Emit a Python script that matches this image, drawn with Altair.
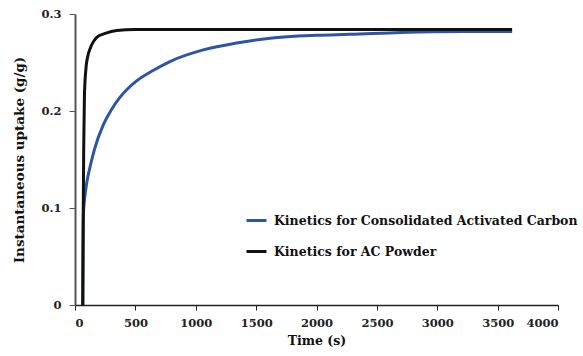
import altair as alt
import pandas as pd

# Kinetics for Consolidated Activated Carbon (blue)
cac_time = [65, 67, 70, 80, 100, 124, 160, 235, 300, 372, 510, 650, 786, 1062, 1338, 1614, 2000, 2277, 2700, 3200, 3620]
cac_uptake = [0.0, 0.06, 0.095, 0.11, 0.128, 0.142, 0.160, 0.186, 0.201, 0.214, 0.231, 0.242, 0.251, 0.263, 0.270, 0.275, 0.278, 0.279, 0.281, 0.282, 0.282]

# Kinetics for AC Powder (black)
acp_time = [64, 68, 72, 78, 90, 105, 124, 150, 180, 250, 345, 500, 1000, 2000, 3000, 3620]
acp_uptake = [0.0, 0.09, 0.16, 0.215, 0.243, 0.256, 0.264, 0.271, 0.276, 0.280, 0.283, 0.284, 0.284, 0.284, 0.284, 0.284]

series_names = ["Kinetics for Consolidated Activated Carbon", "Kinetics for AC Powder"]
series_colors = ["#2e55a5", "#111111"]

x_ticks = [0, 500, 1000, 1500, 2000, 2500, 3000, 3500, 4000]
y_ticks = [0, 0.1, 0.2, 0.3]

rows = []
for t, u in zip(cac_time, cac_uptake):
    rows.append({"time": t, "uptake": u, "series": series_names[0]})
for t, u in zip(acp_time, acp_uptake):
    rows.append({"time": t, "uptake": u, "series": series_names[1]})
df = pd.DataFrame(rows)

font = "DejaVu Serif"

chart = alt.Chart(df).mark_line(strokeWidth=3, interpolate="monotone").encode(
    x=alt.X("time:Q", scale=alt.Scale(domain=[0, 4000], nice=False),
            axis=alt.Axis(values=x_ticks, format="d", title="Time (s)", grid=False,
                          labelFont=font, labelFontSize=11.5, labelFontWeight="bold", labelColor="#222",
                          titleFont=font, titleFontSize=12.5, titleFontWeight="bold", titleColor="#111",
                          domainColor="#222", domainWidth=1.5, tickColor="#222", tickSize=5,
                          labelPadding=7, titlePadding=6)),
    y=alt.Y("uptake:Q", scale=alt.Scale(domain=[0, 0.3], nice=False),
            axis=alt.Axis(values=y_ticks, title="Instantaneous uptake (g/g)", grid=False,
                          labelExpr="datum.value == 0 ? '0' : format(datum.value, '.1f')",
                          labelFont=font, labelFontSize=11.5, labelFontWeight="bold", labelColor="#222",
                          titleFont=font, titleFontSize=13.5, titleFontWeight="bold", titleColor="#111",
                          domainColor="#555", domainWidth=2, tickColor="#555", tickSize=6,
                          labelPadding=8, titlePadding=14)),
    color=alt.Color("series:N", scale=alt.Scale(domain=series_names, range=series_colors),
                    sort=series_names,
                    legend=alt.Legend(title=None, orient="none", legendX=170, legendY=195,
                                      symbolType="stroke", symbolSize=400, symbolStrokeWidth=3,
                                      labelFont=font, labelFontSize=12.5, labelFontWeight="bold",
                                      labelColor="#111", rowPadding=13, labelOffset=6,
                                      labelLimit=400)),
).properties(
    width=483, height=291,
    autosize=alt.AutoSizeParams(type="none"),
    padding={"left": 75, "top": 14, "right": 25, "bottom": 51},
).configure_view(stroke=None)

chart.save("out.html", embed_options={"renderer": "svg", "actions": False})
